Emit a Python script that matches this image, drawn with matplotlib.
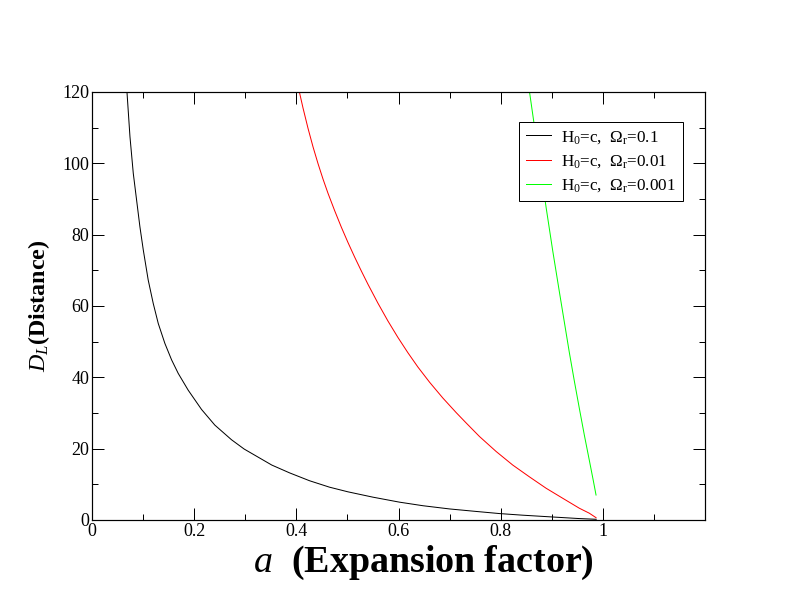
import numpy as np
import matplotlib
matplotlib.use("Agg")
import matplotlib.pyplot as plt

# curve points (a, D_L)
a_01 = [0.068, 0.0743, 0.0808, 0.0873, 0.0938, 0.1004, 0.110, 0.1199, 0.1297, 0.1427,
        0.1558, 0.1688, 0.1883, 0.2144, 0.2405, 0.2731, 0.2978, 0.352, 0.387, 0.426,
        0.465, 0.501, 0.550, 0.602, 0.648, 0.700, 0.752, 0.798, 0.843, 0.895,
        0.954, 0.987]
d_01 = [121.0, 107.5, 97.2, 89.7, 82.2, 75.7, 67.3, 60.7, 55.1, 49.5,
        44.9, 41.1, 36.4, 31.0, 26.6, 22.5, 19.9, 15.4, 13.2, 11.0,
        9.2, 7.9, 6.4, 5.0, 4.0, 3.1, 2.4, 1.8, 1.35, 0.9,
        0.4, 0.2]

a_001 = [0.402, 0.4131, 0.4229, 0.4327, 0.4425, 0.4522, 0.462, 0.4751, 0.4881, 0.5011,
         0.5142, 0.5273, 0.5402, 0.5597, 0.5793, 0.5988, 0.6184, 0.6379, 0.661, 0.6868,
         0.713, 0.7325, 0.7586, 0.7912, 0.8237, 0.8563, 0.889, 0.9214, 0.954, 0.9736,
         0.9867]
d_001 = [122.5, 115.5, 109.8, 104.6, 99.9, 95.6, 91.6, 86.7, 82.1, 77.8,
         73.7, 69.8, 66.1, 60.8, 55.8, 51.2, 46.9, 42.9, 38.6, 34.2,
         30.1, 27.2, 23.4, 19.2, 15.4, 12.1, 8.9, 6.1, 3.3, 1.9,
         0.65]

a_0001 = [0.854, 0.866, 0.889, 0.902, 0.915, 0.9267, 0.9345, 0.9443, 0.954, 0.9638,
          0.9736, 0.9814, 0.9867]
d_0001 = [122.5, 110.5, 87.6, 75.4, 63.9, 53.7, 46.9, 38.9, 31.3, 23.8,
          16.7, 11.0, 7.0]

labels = [r"H$_0$=c,  $\Omega_\mathrm{r}$=0.1",
          r"H$_0$=c,  $\Omega_\mathrm{r}$=0.01",
          r"H$_0$=c,  $\Omega_\mathrm{r}$=0.001"]
colors = ["black", "red", "#00ff00"]

plt.rcParams["font.family"] = "Liberation Serif"
plt.rcParams["mathtext.fontset"] = "custom"
plt.rcParams["mathtext.rm"] = "Liberation Serif"
plt.rcParams["mathtext.it"] = "Liberation Serif:italic"
plt.rcParams["mathtext.bf"] = "Liberation Serif:bold"

fig = plt.figure(figsize=(11, 8.5), dpi=72)
ax = fig.add_axes([92/792, 92/612, 613/792, 428/612])

for xs, ys, c, lab in zip([a_01, a_001, a_0001], [d_01, d_001, d_0001], colors, labels):
    ax.plot(xs, ys, color=c, lw=1, label=lab)

ax.set_xlim(0, 1.2)
ax.set_ylim(0, 120)
ax.set_xticks([0, 0.2, 0.4, 0.6, 0.8, 1.0])
ax.set_xticklabels(["0", "0.2", "0.4", "0.6", "0.8", "1"])
ax.set_xticks(np.arange(0.1, 1.2, 0.2), minor=True)
ax.set_yticks(np.arange(0, 121, 20))
ax.set_yticks(np.arange(10, 120, 20), minor=True)
ax.tick_params(which="both", direction="in", top=True, right=True, labelsize=18, width=1)
ax.tick_params(which="major", length=12, pad=3)
ax.tick_params(which="minor", length=6)
for s in ax.spines.values():
    s.set_linewidth(1.2)

ax.set_xlabel(r"$\mathit{a}$  $\mathbf{(Expansion\ factor)}$", fontsize=38)
ax.xaxis.set_label_coords(0.54, -0.055)
ax.set_ylabel(r"$\mathit{D}_{\mathit{L}}$$\mathbf{(Distance)}$", fontsize=24)
ax.yaxis.set_label_coords(-0.066, 0.5)

leg = ax.legend(loc="upper right", bbox_to_anchor=(0.964, 0.93), borderaxespad=0,
                fontsize=17, handlelength=1.5, handletextpad=0.6, labelspacing=0.45,
                fancybox=False, framealpha=1, edgecolor="black", borderpad=0.4)
leg.get_frame().set_linewidth(1)

fig.savefig("out.png", dpi=72)
